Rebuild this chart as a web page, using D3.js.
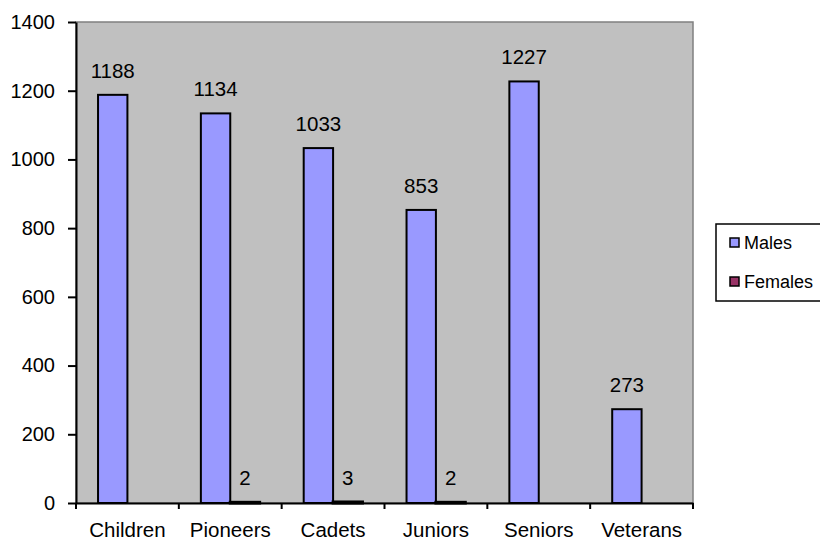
<!DOCTYPE html>
<html>
<head>
<meta charset="utf-8">
<script src="https://cdn.jsdelivr.net/npm/d3@7"></script>
<style>
  html, body { margin: 0; padding: 0; background: #fff; }
</style>
</head>
<body>
<div id="chart"></div>
<script>
const categories = ["Children", "Pioneers", "Cadets", "Juniors", "Seniors", "Veterans"];
const seriesNames = ["Males", "Females"];
const males = [1188, 1134, 1033, 853, 1227, 273];
const females = [null, 2, 3, 2, null, null];
const yTicks = [0, 200, 400, 600, 800, 1000, 1200, 1400];

const width = 820;
const height = 544;
const plotLeft = 76;
const plotRight = 693;
const plotTop = 22;
const plotBottom = 503;

const maleFill = "#9999FF";
const femaleFill = "#993366";
const plotBg = "#C0C0C0";
const fontFamily = "'Liberation Sans', Arial, sans-serif";

const svg = d3.select("#chart")
  .append("svg")
  .attr("width", width)
  .attr("height", height)
  .style("font-family", fontFamily);

const x0 = d3.scaleBand()
  .domain(categories)
  .range([plotLeft, plotRight])
  .padding(0);

const bw = x0.bandwidth();
const x1 = d3.scaleBand()
  .domain(seriesNames)
  .range([bw * 0.75 / 3.5, bw * 2.75 / 3.5])
  .padding(0);

const y = d3.scaleLinear()
  .domain([0, 1400])
  .range([plotBottom, plotTop]);

// plot area
svg.append("rect")
  .attr("x", plotLeft)
  .attr("y", plotTop)
  .attr("width", plotRight - plotLeft)
  .attr("height", plotBottom - plotTop)
  .attr("fill", plotBg)
  .attr("stroke", "#808080")
  .attr("stroke-width", 1.5);

const rows = categories.map((c, i) => ({
  cat: c,
  values: [
    { key: "Males", value: males[i], fill: maleFill },
    { key: "Females", value: females[i], fill: femaleFill },
  ],
}));

const groups = svg.append("g")
  .selectAll("g")
  .data(rows)
  .join("g")
  .attr("transform", d => `translate(${x0(d.cat)},0)`);

groups.selectAll("rect")
  .data(d => d.values.filter(v => v.value != null))
  .join("rect")
  .attr("x", d => x1(d.key))
  .attr("y", d => y(d.value))
  .attr("width", x1.bandwidth())
  .attr("height", d => y(0) - y(d.value))
  .attr("fill", d => d.fill)
  .attr("stroke", "#000")
  .attr("stroke-width", d => d.value < 10 ? 3 : 2);

groups.selectAll("text")
  .data(d => d.values.filter(v => v.value != null))
  .join("text")
  .attr("x", d => x1(d.key) + x1.bandwidth() / 2)
  .attr("y", d => y(d.value) - 17)
  .attr("text-anchor", "middle")
  .attr("font-size", "20.5px")
  .attr("fill", "#000")
  .text(d => d.value);

// y axis
const yAxis = svg.append("g")
  .attr("transform", `translate(${plotLeft},0)`)
  .call(d3.axisLeft(y).tickValues(yTicks).tickFormat(d3.format("d"))
    .tickSize(8).tickPadding(13).tickSizeOuter(0));
yAxis.select(".domain").attr("stroke", "#000").attr("stroke-width", 2);
yAxis.selectAll(".tick line").attr("stroke", "#000").attr("stroke-width", 2);
yAxis.selectAll(".tick text")
  .attr("font-size", "20px")
  .attr("font-family", fontFamily)
  .attr("fill", "#000");

// x axis
const xAxis = svg.append("g")
  .attr("transform", `translate(0,${plotBottom})`)
  .call(d3.axisBottom(x0).tickSize(0).tickPadding(19).tickSizeOuter(0));
xAxis.select(".domain").attr("stroke", "#000").attr("stroke-width", 2);
xAxis.selectAll(".tick text")
  .attr("font-size", "20.5px")
  .attr("font-family", fontFamily)
  .attr("fill", "#000");

// category boundary ticks
const boundaries = categories.map(c => x0(c)).concat([plotRight]);
svg.append("g")
  .selectAll("line")
  .data(boundaries)
  .join("line")
  .attr("x1", d => d)
  .attr("x2", d => d)
  .attr("y1", plotBottom)
  .attr("y2", plotBottom + 6)
  .attr("stroke", "#000")
  .attr("stroke-width", 2);

// legend
const legend = svg.append("g");
legend.append("rect")
  .attr("x", 716)
  .attr("y", 224)
  .attr("width", 110)
  .attr("height", 77)
  .attr("fill", "#fff")
  .attr("stroke", "#000")
  .attr("stroke-width", 1.5);

const legendItems = [
  { name: seriesNames[0], fill: maleFill, cy: 242.5 },
  { name: seriesNames[1], fill: femaleFill, cy: 281.5 },
];

legend.selectAll("rect.sw")
  .data(legendItems)
  .join("rect")
  .attr("class", "sw")
  .attr("x", 730)
  .attr("y", d => d.cy - 4.5)
  .attr("width", 9)
  .attr("height", 9)
  .attr("fill", d => d.fill)
  .attr("stroke", "#000")
  .attr("stroke-width", 1.5);

legend.selectAll("text")
  .data(legendItems)
  .join("text")
  .attr("x", 744)
  .attr("y", d => d.cy)
  .attr("dominant-baseline", "central")
  .attr("font-size", "18px")
  .attr("fill", "#000")
  .text(d => d.name);
</script>
</body>
</html>
